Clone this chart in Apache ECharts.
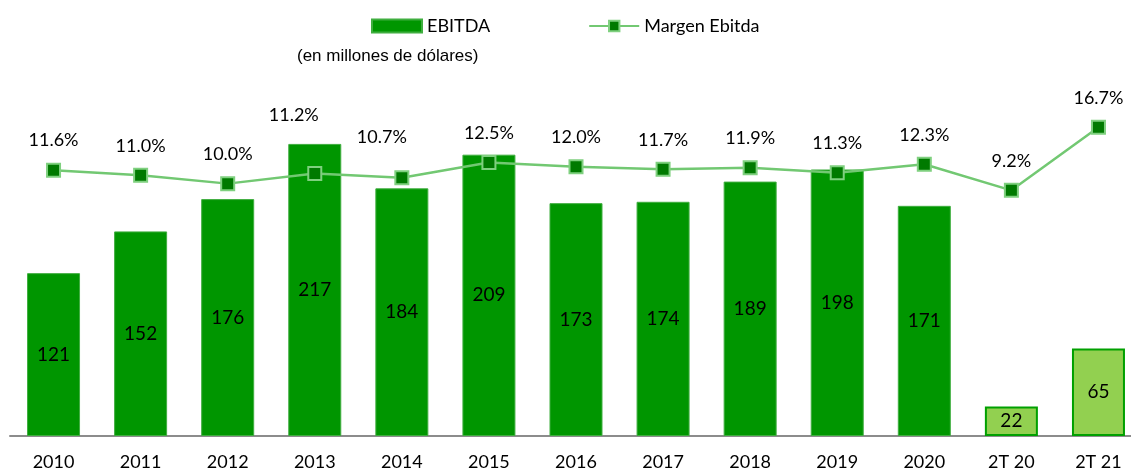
<!DOCTYPE html>
<html lang="es" style="height: 100%">
<head>
  <meta charset="utf-8">
</head>
<body style="height: 100%; margin: 0; overflow: hidden">
  <div id="container" style="width: 1142px; height: 471px"></div>
  <script type="text/javascript" src="https://fastly.jsdelivr.net/npm/echarts@6/dist/echarts.min.js"></script>
  <script type="text/javascript">
    var categories = ['2010', '2011', '2012', '2013', '2014', '2015', '2016', '2017', '2018', '2019', '2020', '2T 20', '2T 21'];
    var ebitda = [121, 152, 176, 217, 184, 209, 173, 174, 189, 198, 171, 22, 65];
    var margen = [11.6, 11.0, 10.0, 11.2, 10.7, 12.5, 12.0, 11.7, 11.9, 11.3, 12.3, 9.2, 16.7];

    var dom = document.getElementById('container');
    var myChart = echarts.init(dom, null, { renderer: 'canvas' });

    // the two quarterly bars are drawn lighter
    var barData = ebitda.map(function (v, i) {
      if (i >= 11) {
        return {
          value: v,
          itemStyle: { color: '#92d050', borderColor: '#00a000', borderWidth: 2 }
        };
      }
      return v;
    });

    // 2013 and 2014 labels were nudged up-left so they clear the bars
    var lineData = margen.map(function (v, i) {
      if (i === 3) return { value: v, label: { offset: [-21, -29] } };
      if (i === 4) return { value: v, label: { offset: [-20, -11] } };
      return v;
    });

    var option = {
      animation: false,
      textStyle: { fontFamily: 'Lato, sans-serif' },
      legend: {
        left: 371,
        top: 17,
        padding: 0,
        itemGap: 98,
        itemWidth: 50,
        itemHeight: 13,
        textStyle: { fontSize: 18, color: '#000', fontFamily: 'Lato' },
        data: [
          { name: 'EBITDA', icon: 'rect' },
          { name: 'Margen Ebitda' }
        ]
      },
      graphic: [{
        type: 'text',
        left: 297,
        top: 48,
        style: {
          text: '(en millones de dólares)',
          font: '17px "Liberation Sans", Arial',
          fill: '#000'
        }
      }],
      grid: {
        left: 10,
        top: 99.5,
        width: 1132,
        height: 337.5
      },
      xAxis: {
        type: 'category',
        data: categories,
        axisLine: { lineStyle: { color: '#8c8c8c', width: 2 } },
        axisTick: { show: false },
        axisLabel: { color: '#000', fontSize: 18, margin: 17, fontFamily: 'Lato' }
      },
      yAxis: [
        { type: 'value', min: 0, max: 250, show: false },
        { type: 'value', min: -20, max: 20, show: false }
      ],
      series: [
        {
          name: 'EBITDA',
          type: 'bar',
          barWidth: 53,
          data: barData,
          itemStyle: { color: '#009600', borderColor: '#3fae3f', borderWidth: 1 },
          label: {
            show: true,
            position: 'inside',
            color: '#000',
            fontSize: 19,
            fontFamily: 'Lato'
          }
        },
        {
          name: 'Margen Ebitda',
          type: 'line',
          yAxisIndex: 1,
          data: lineData,
          symbol: 'rect',
          symbolSize: 13,
          lineStyle: { color: '#72c872', width: 2.5 },
          itemStyle: { color: '#007a00', borderColor: '#7fd07f', borderWidth: 2 },
          label: {
            show: true,
            position: 'top',
            distance: 13,
            color: '#000',
            fontSize: 18,
            fontFamily: 'Lato',
            formatter: function (p) { return p.value.toFixed(1) + '%'; }
          }
        }
      ]
    };

    myChart.setOption(option);
    window.addEventListener('resize', myChart.resize);
  </script>
</body>
</html>
